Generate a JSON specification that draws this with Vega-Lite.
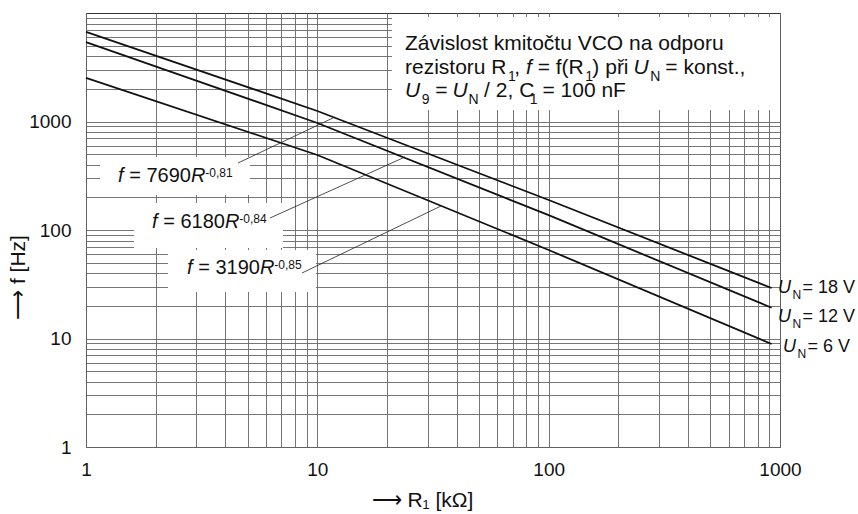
{
  "$schema": "https://vega.github.io/schema/vega-lite/v6.json",
  "width": 694,
  "height": 434,
  "autosize": {"type": "none"},
  "padding": {"left": 86, "top": 13, "right": 78, "bottom": 67},
  "background": "white",
  "config": {
    "view": {"stroke": "#333", "strokeWidth": 1},
    "font": "Liberation Sans",
    "text": {"font": "Liberation Sans", "color": "#111", "align": "left", "baseline": "alphabetic"},
    "axis": {
      "labelFont": "Liberation Sans",
      "titleFont": "Liberation Sans",
      "labelColor": "#111",
      "titleColor": "#111",
      "labelFontSize": 19,
      "titleFontSize": 21,
      "titleFontWeight": "normal",
      "domain": false,
      "ticks": false,
      "grid": true,
      "gridColor": "#666",
      "gridWidth": 0.9,
      "labelOverlap": false,
      "labelFlush": false
    }
  },
  "datasets": {
    "curves": [
      {"U": "18 V", "R": 1, "f": 6700}, {"U": "18 V", "R": 10, "f": 1250}, {"U": "18 V", "R": 100, "f": 189}, {"U": "18 V", "R": 920, "f": 29.2},
      {"U": "12 V", "R": 1, "f": 5400}, {"U": "12 V", "R": 10, "f": 969}, {"U": "12 V", "R": 100, "f": 137}, {"U": "12 V", "R": 920, "f": 19.2},
      {"U": "6 V", "R": 1, "f": 2520}, {"U": "6 V", "R": 10, "f": 491}, {"U": "6 V", "R": 100, "f": 65.4}, {"U": "6 V", "R": 920, "f": 8.9}
    ],
    "boxes": [
      {"R": 21.02, "R2": 1000, "f": 1277, "f2": 9187},
      {"R": 1.149, "R2": 5.117, "f": 210.2, "f2": 470.9},
      {"R": 1.612, "R2": 7.105, "f": 68.26, "f2": 177.4},
      {"R": 2.262, "R2": 9.87, "f": 26.83, "f2": 65.43}
    ],
    "leaders": [
      {"R": 4.54, "f": 414.5, "R2": 11.92, "f2": 1100},
      {"R": 6.244, "f": 129.0, "R2": 23.93, "f2": 470.9},
      {"R": 8.584, "f": 40.15, "R2": 34.24, "f2": 166.4}
    ],
    "texts": [
      {"part": "note", "kind": "plain", "text": "Závislost kmitočtu VCO na odporu", "R": 23.93, "f": 4560},
      {"part": "note", "kind": "plain", "text": "rezistoru R", "R": 23.93, "f": 2740},
      {"part": "note", "kind": "sub", "text": "1", "R": 66.72, "f": 2362},
      {"part": "note", "kind": "plain", "text": ",", "R": 71.05, "f": 2740},
      {"part": "note", "kind": "italic", "text": "f", "R": 79.83, "f": 2740},
      {"part": "note", "kind": "plain", "text": "= f(R", "R": 89.6, "f": 2740},
      {"part": "note", "kind": "sub", "text": "1", "R": 143.9, "f": 2362},
      {"part": "note", "kind": "plain", "text": ") při", "R": 154.5, "f": 2740},
      {"part": "note", "kind": "italic", "text": "U", "R": 232.7, "f": 2740},
      {"part": "note", "kind": "sub", "text": "N", "R": 274.8, "f": 2362},
      {"part": "note", "kind": "plain", "text": "= konst.,", "R": 319.5, "f": 2740},
      {"part": "note", "kind": "italic", "text": "U", "R": 23.93, "f": 1682},
      {"part": "note", "kind": "sub", "text": "9", "R": 28.27, "f": 1450},
      {"part": "note", "kind": "plain", "text": "=", "R": 32.3, "f": 1682},
      {"part": "note", "kind": "italic", "text": "U", "R": 38.4, "f": 1682},
      {"part": "note", "kind": "sub", "text": "N", "R": 45.08, "f": 1450},
      {"part": "note", "kind": "plain", "text": "/ 2, C", "R": 52.6, "f": 1682},
      {"part": "note", "kind": "sub", "text": "1", "R": 82.9, "f": 1450},
      {"part": "note", "kind": "plain", "text": "= 100 nF", "R": 94.0, "f": 1682},
      {"part": "eq", "kind": "italic", "text": "f", "R": 1.375, "f": 276.9},
      {"part": "eq", "kind": "plain", "text": "= 7690", "R": 1.537, "f": 276.9},
      {"part": "eq", "kind": "italic", "text": "R", "R": 2.841, "f": 276.9},
      {"part": "eq", "kind": "sup", "text": "-0,81", "R": 3.28, "f": 308.0},
      {"part": "eq", "kind": "italic", "text": "f", "R": 1.929, "f": 104.3},
      {"part": "eq", "kind": "plain", "text": "= 6180", "R": 2.157, "f": 104.3},
      {"part": "eq", "kind": "italic", "text": "R", "R": 3.985, "f": 104.3},
      {"part": "eq", "kind": "sup", "text": "-0,84", "R": 4.599, "f": 116.0},
      {"part": "eq", "kind": "italic", "text": "f", "R": 2.733, "f": 39.31},
      {"part": "eq", "kind": "plain", "text": "= 3190", "R": 3.055, "f": 39.31},
      {"part": "eq", "kind": "italic", "text": "R", "R": 5.646, "f": 39.31},
      {"part": "eq", "kind": "sup", "text": "-0,85", "R": 6.516, "f": 43.71},
      {"part": "end", "kind": "italic", "text": "U", "R": 980.4, "f": 26.27},
      {"part": "end", "kind": "sub", "text": "N", "R": 1133, "f": 23.13},
      {"part": "end", "kind": "plain", "text": "= 18 V", "R": 1250, "f": 26.27},
      {"part": "end", "kind": "italic", "text": "U", "R": 980.4, "f": 14.2},
      {"part": "end", "kind": "sub", "text": "N", "R": 1133, "f": 12.5},
      {"part": "end", "kind": "plain", "text": "= 12 V", "R": 1250, "f": 14.2},
      {"part": "end", "kind": "italic", "text": "U", "R": 1030, "f": 7.509},
      {"part": "end", "kind": "sub", "text": "N", "R": 1191, "f": 6.612},
      {"part": "end", "kind": "plain", "text": "= 6 V", "R": 1314, "f": 7.509}
    ]
  },
  "encoding": {
    "x": {
      "field": "R",
      "type": "quantitative",
      "scale": {"type": "log", "domain": [1, 1000], "nice": false},
      "axis": {
        "values": [1, 2, 3, 4, 5, 6, 7, 8, 9, 10, 20, 30, 40, 50, 60, 70, 80, 90, 100, 200, 300, 400, 500, 600, 700, 800, 900, 1000],
        "labelExpr": "indexof([1, 10, 100, 1000], datum.value) >= 0 ? '' + datum.value : ''",
        "title": "⟶ R₁ [kΩ]",
        "labelPadding": 13,
        "titlePadding": 10,
        "titleX": 336,
        "titleAlign": "center"
      }
    },
    "y": {
      "field": "f",
      "type": "quantitative",
      "scale": {"type": "log", "domain": [1, 10000], "nice": false},
      "axis": {
        "values": [1, 2, 3, 4, 5, 6, 7, 8, 9, 10, 20, 30, 40, 50, 60, 70, 80, 90, 100, 200, 300, 400, 500, 600, 700, 800, 900, 1000, 2000, 3000, 4000, 5000, 6000, 7000, 8000, 9000],
        "labelExpr": "indexof([1, 10, 100, 1000], datum.value) >= 0 ? '' + datum.value : ''",
        "title": "⟶ f [Hz]",
        "labelPadding": 15,
        "titleAngle": -90,
        "titleX": -68,
        "titleY": 264,
        "titleAlign": "center",
        "titleBaseline": "middle"
      }
    }
  },
  "layer": [
    {
      "data": {"name": "boxes"},
      "mark": {"type": "rect", "fill": "white", "strokeWidth": 0},
      "encoding": {"x2": {"field": "R2"}, "y2": {"field": "f2"}}
    },
    {
      "data": {"name": "curves"},
      "mark": {"type": "line", "color": "#111", "strokeWidth": 1.8},
      "encoding": {"detail": {"field": "U"}}
    },
    {
      "data": {"name": "leaders"},
      "mark": {"type": "rule", "color": "#222", "strokeWidth": 0.8},
      "encoding": {"x2": {"field": "R2"}, "y2": {"field": "f2"}}
    },
    {
      "data": {"name": "texts"},
      "transform": [{"filter": "datum.part == 'note' && datum.kind == 'plain'"}],
      "mark": {"type": "text", "fontSize": 21},
      "encoding": {"text": {"field": "text"}}
    },
    {
      "data": {"name": "texts"},
      "transform": [{"filter": "datum.part == 'note' && datum.kind == 'italic'"}],
      "mark": {"type": "text", "fontSize": 21, "fontStyle": "italic"},
      "encoding": {"text": {"field": "text"}}
    },
    {
      "data": {"name": "texts"},
      "transform": [{"filter": "datum.part == 'note' && datum.kind == 'sub'"}],
      "mark": {"type": "text", "fontSize": 14},
      "encoding": {"text": {"field": "text"}}
    },
    {
      "data": {"name": "texts"},
      "transform": [{"filter": "datum.part == 'eq' && datum.kind == 'plain'"}],
      "mark": {"type": "text", "fontSize": 20},
      "encoding": {"text": {"field": "text"}}
    },
    {
      "data": {"name": "texts"},
      "transform": [{"filter": "datum.part == 'eq' && datum.kind == 'italic'"}],
      "mark": {"type": "text", "fontSize": 20, "fontStyle": "italic"},
      "encoding": {"text": {"field": "text"}}
    },
    {
      "data": {"name": "texts"},
      "transform": [{"filter": "datum.part == 'eq' && datum.kind == 'sup'"}],
      "mark": {"type": "text", "fontSize": 12},
      "encoding": {"text": {"field": "text"}}
    },
    {
      "data": {"name": "texts"},
      "transform": [{"filter": "datum.part == 'end' && datum.kind == 'plain'"}],
      "mark": {"type": "text", "fontSize": 18},
      "encoding": {"text": {"field": "text"}}
    },
    {
      "data": {"name": "texts"},
      "transform": [{"filter": "datum.part == 'end' && datum.kind == 'italic'"}],
      "mark": {"type": "text", "fontSize": 18, "fontStyle": "italic"},
      "encoding": {"text": {"field": "text"}}
    },
    {
      "data": {"name": "texts"},
      "transform": [{"filter": "datum.part == 'end' && datum.kind == 'sub'"}],
      "mark": {"type": "text", "fontSize": 12},
      "encoding": {"text": {"field": "text"}}
    }
  ]
}
